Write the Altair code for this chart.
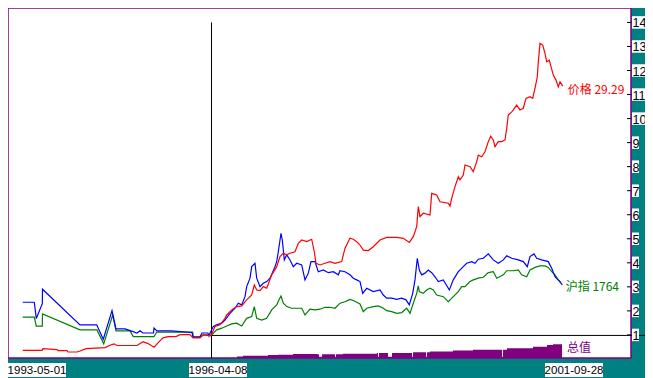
import altair as alt
import pandas as pd

# x = trading-day position along the chart (0 = 1993-05-01), y = relative value
price_x = [14.7, 34, 35, 49, 50, 59, 60, 69, 72, 78, 97, 102, 106, 109, 129, 135, 140, 146, 150, 155, 160, 168, 172, 182, 185, 192, 195, 203,
           204, 207, 212, 217, 218.7, 223.7, 228.7, 233.7, 238.7, 243.7, 246.3, 248.7, 252, 255.3, 258.7, 263.7, 268.7, 272, 275.3, 278.7, 282, 287,
           290.3, 293.7, 298.7, 303.7, 306.3, 308, 312, 317, 322, 327, 333.7, 337, 342, 345.3, 348.7, 352, 355.3, 360.3, 365.3, 372, 378.7, 388.7,
           395.3, 401.3, 405.3, 408.7, 410.3, 412, 415.3, 422, 423.7, 428.7, 432, 440.3, 442, 443.7, 447, 450.3, 452, 455.3, 457, 462, 465.3, 468.7,
           470.3, 473.7, 477, 480.3, 482.7, 485.3, 487, 490.3, 493.7, 497, 498.7, 500.3, 503.7, 505.3, 508.7, 512, 515.3, 518, 522, 524.7, 527,
           529.3, 530.3, 532, 534.7, 537, 538.7, 541.3, 543, 545.3, 548, 550.3, 552, 554.7]
price_y = [0.36, 0.36, 0.43, 0.39, 0.35, 0.35, 0.29, 0.29, 0.33, 0.43, 0.47, 0.57, 0.63, 0.56, 0.56, 0.72, 0.64, 0.49, 0.67, 0.88, 0.93, 0.93, 1.01, 1.01, 0.88, 0.88, 1.0, 0.96,
           1.07, 1.35, 1.42, 1.69, 1.83, 2.04, 2.18, 2.21, 2.46, 2.66, 3.08, 2.87, 2.84, 3.01, 2.94, 3.50, 3.84, 4.26, 4.40, 4.33, 4.40, 4.46,
           4.81, 4.95, 4.88, 4.98, 4.46, 3.98, 3.91, 3.98, 4.05, 3.98, 4.05, 4.61, 5.02, 4.98, 4.88, 4.74, 4.53, 4.51, 4.67, 4.95, 5.06, 5.06,
           5.02, 4.85, 5.09, 5.50, 6.34, 5.92, 6.06, 5.99, 6.89, 6.82, 6.54, 6.48, 6.36, 6.68, 7.17, 7.58, 7.45, 7.65, 8.07, 8.00, 7.79, 8.21,
           8.48, 8.41, 8.62, 9.04, 9.27, 9.11, 8.83, 9.04, 9.04, 9.11, 9.59, 10.15, 10.28, 10.36, 10.56, 10.36, 10.43, 10.84, 10.91, 10.84, 11.26,
           11.74, 12.36, 13.13, 13.06, 12.71, 12.36, 12.43, 12.16, 11.81, 11.60, 11.32, 11.53, 11.35]

fund_x = [14.7, 26.3, 28.3, 34.3, 34.5, 72, 88.7, 95.3, 104, 108, 117, 123, 129, 132, 135, 145.5, 146, 149, 163, 184, 185, 192, 194, 200, 201,
          202, 205.3, 208.7, 213.7, 217, 222, 227, 230.3, 233.7, 237, 238.7, 242, 243.7, 247, 248.7, 252, 255.3, 258.7, 262, 267, 268.7, 270.3,
          273, 274.3, 276.3, 278.7, 282, 285.3, 288.7, 293.7, 297, 300.3, 303, 307, 310.3, 315.3, 320.3, 325.3, 330.3, 332, 337, 342, 345.3, 348.7,
          352, 354.7, 358.7, 365.3, 372, 375.3, 378.7, 383.7, 388.7, 393.7, 398, 401.3, 404.7, 407, 409.3, 411.3, 413.7, 417, 420.3, 423.7, 427,
          430.3, 435.3, 440.3, 441.3, 445.3, 450.3, 455.3, 458.7, 463.7, 467, 470.3, 475.3, 480.3, 485.3, 490.3, 495.3, 498.7, 503.7, 510.3,
          515.3, 519.3, 522, 526, 528.7, 533.7, 540.3, 543.7, 547, 549.3, 552, 554.3]
fund_y = [2.36, 2.36, 1.68, 2.30, 2.90, 1.42, 1.42, 0.82, 2.01, 1.25, 1.25, 1.17, 1.08, 1.17, 1.08, 1.08, 1.29, 1.17, 1.17, 1.10, 0.92, 0.92, 1.08, 1.08, 0.96,
          1.07, 1.35, 1.42, 1.49, 1.62, 1.90, 2.11, 2.32, 2.25, 2.59, 3.01, 3.36, 3.84, 3.98, 3.36, 3.01, 3.15, 3.22, 3.36, 3.84, 4.05, 4.46,
          5.23, 4.95, 4.12, 4.33, 4.12, 3.84, 3.98, 3.91, 3.29, 3.57, 4.05, 4.05, 3.63, 3.70, 3.59, 3.63, 3.50, 3.67, 3.63, 3.50, 3.36, 3.29,
          3.22, 2.73, 2.94, 2.80, 2.87, 2.66, 2.53, 2.53, 2.48, 2.53, 2.46, 2.25, 2.73, 3.29, 4.19, 3.70, 3.50, 3.57, 3.70, 3.59, 3.42,
          3.22, 3.29, 2.94, 2.87, 3.29, 3.63, 3.84, 3.98, 4.05, 3.98, 4.15, 4.19, 4.37, 4.12, 3.98, 4.12, 4.29, 4.19, 4.12,
          4.05, 3.84, 4.26, 4.37, 4.19, 4.12, 4.05, 3.77, 3.42, 3.32, 3.22, 3.08]

sh_x = [14.7, 26.3, 28.3, 34.3, 34.5, 72, 89, 95.7, 104.7, 108, 122, 125.3, 146, 148.7, 184.7, 185.3, 192, 195.3, 202,
        203.7, 208.7, 213.7, 218.7, 223.7, 228.7, 233.7, 238.7, 243.7, 246.3, 248.7, 253.7, 258.7, 263.7, 268.7, 271, 273, 275.3, 278.7, 283.7,
        288.7, 293.7, 297, 302, 307, 312, 317, 322, 327, 332, 337, 342, 345.3, 352, 355.3, 358.7, 365.3, 370.3, 375.3, 378.7, 383.7, 388.7,
        393.7, 398.7, 402, 405.3, 408.7, 410.3, 411.3, 415.3, 418.7, 422, 425.3, 428.7, 435.3, 440.3, 445.3, 450.3, 453.7, 457, 462, 465.3,
        470.3, 475.3, 480.3, 485.3, 488.7, 495.3, 498.7, 505.3, 510.3, 513.7, 518.7, 522, 527, 532, 537, 540.3, 543.7, 547, 550.3, 552.7]
sh_y = [1.74, 1.74, 1.37, 1.37, 1.87, 1.21, 1.21, 0.63, 1.83, 1.17, 1.17, 0.93, 0.93, 1.12, 1.12, 0.90, 0.90, 1.0, 1.0,
        1.00, 1.21, 1.28, 1.37, 1.46, 1.49, 1.37, 1.69, 1.76, 2.18, 1.69, 1.62, 1.69, 2.04, 2.25, 2.46, 2.62, 2.32, 2.18, 2.11,
        2.11, 2.11, 1.83, 2.07, 2.04, 2.07, 2.15, 2.15, 2.11, 2.32, 2.38, 2.48, 2.43, 2.29, 1.97, 2.11, 2.18, 2.21, 2.11, 2.01, 1.97, 1.90,
        1.93, 2.11, 1.90, 2.32, 2.73, 3.04, 2.80, 2.73, 2.87, 2.94, 2.87, 2.66, 2.59, 2.38, 2.59, 2.80, 3.01, 3.01, 3.22, 3.29,
        3.36, 3.40, 3.59, 3.63, 3.36, 3.50, 3.67, 3.67, 3.70, 3.50, 3.42, 3.70, 3.81, 3.87, 3.87, 3.81, 3.63, 3.50, 3.29, 3.17]

total_x = [203, 229, 235, 260, 270, 285, 309, 311, 314, 327, 328, 335, 369, 370, 371, 380, 384, 404, 405, 418, 419, 422, 445, 465,
           494, 495, 499, 525, 539, 545, 554]
total_y = [0.04, 0.10, 0.13, 0.16, 0.18, 0.21, 0.20, 0.09, 0.20, 0.09, 0.20, 0.22, 0.25, 0.09, 0.25, 0.09, 0.25, 0.09, 0.28, 0.09, 0.28, 0.31, 0.35, 0.38,
           0.09, 0.38, 0.45, 0.51, 0.58, 0.61, 0.61]

y_ticks = list(range(1, 15))
date_labels = ["1993-05-01", "1996-04-08", "2001-09-28"]
date_pos = [29, 210, 566]
marker_x = 203
series_names = ["价格 29.29", "沪指 1764", "总值"]
series_colors = ["#ff0000", "#008000", "#800080"]

RED, BLUE, GREEN, PURPLE = "#ff0000", "#0000ff", "#008000", "#800080"
X_MIN, X_MAX = 0, 623
Y_MIN, Y_MAX = 0.04, 14.6
W, H = 623, 350

xs = alt.Scale(domain=[X_MIN, X_MAX], nice=False, zero=False)
ys = alt.Scale(domain=[Y_MIN, Y_MAX], nice=False, zero=False)
X = lambda f: alt.X(f, type="quantitative", scale=xs, axis=None)
Y = lambda f: alt.Y(f, type="quantitative", scale=ys, axis=None)

def line_layer(xv, yv, color):
    df = pd.DataFrame({"x": xv, "v": yv})
    return alt.Chart(df).mark_line(color=color, strokeWidth=1.2).encode(
        x=X("x"), y=Y("v"), order="x:Q")

total_df = pd.DataFrame({"x": total_x, "v": total_y})
area = alt.Chart(total_df).mark_area(color=PURPLE, interpolate="step-after", opacity=1).encode(
    x=X("x"), y=Y("v"), y2=alt.datum(Y_MIN))

vline = alt.Chart(pd.DataFrame({"x": [marker_x], "top": [14], "bot": [Y_MIN]})).mark_rule(
    color="black", strokeWidth=1, xOffset=0.5).encode(
    x=X("x"), y=Y("top"), y2="bot:Q")
hline = alt.Chart(pd.DataFrame({"x": [marker_x], "x2": [637], "v": [1]})).mark_rule(
    color="black", strokeWidth=1, yOffset=0.5).encode(
    x=X("x"), x2="x2:Q", y=Y("v"))

lab_df = pd.DataFrame({
    "x": [price_x[-1], sh_x[-1], total_x[-1]],
    "v": [price_y[-1], sh_y[-1], total_y[-1]],
    "t": series_names,
    "c": series_colors,
})
labels = alt.Chart(lab_df).mark_text(align="left", baseline="top", dx=5, dy=-1,
                                     font="Noto Sans CJK SC", fontSize=12).encode(
    x=X("x"), y=Y("v"), text="t:N", color=alt.Color("c:N", scale=None))

tick_df = pd.DataFrame({"v": y_ticks, "t": [str(t) for t in y_ticks]})
ticks = alt.Chart(tick_df).mark_rule(color="black").encode(
    x=alt.value(619), x2=alt.value(623), y=Y("v"))
box1 = alt.Chart(tick_df).transform_filter("datum.v < 10").transform_calculate(
    lo="datum.v - 0.26", hi="datum.v + 0.26").mark_rect(color="white").encode(
    x=alt.value(624), x2=alt.value(631), y=Y("lo"), y2="hi:Q")
box2 = alt.Chart(tick_df).transform_filter("datum.v >= 10").transform_calculate(
    lo="datum.v - 0.26", hi="datum.v + 0.26").mark_rect(color="white").encode(
    x=alt.value(624), x2=alt.value(637), y=Y("lo"), y2="hi:Q")
tick_text = alt.Chart(tick_df).mark_text(align="left", baseline="middle", font="Liberation Sans",
                                          fontSize=12.5, color="black", dy=1).encode(
    x=alt.value(624.5), y=Y("v"), text="t:N")

date_df = pd.DataFrame({"x": date_pos, "t": date_labels})
date_box = alt.Chart(date_df).transform_calculate(
    a="datum.x - 29", b="datum.x + 29").mark_rect(color="white").encode(
    x=X("a"), x2="b:Q", y=alt.value(355), y2=alt.value(369))
date_text = alt.Chart(date_df).mark_text(align="center", baseline="middle", font="Liberation Sans",
                                         fontSize=11.5, color="black", dy=1).encode(
    x=X("x"), y=alt.value(362), text="t:N")

chart = alt.layer(
    area, vline, hline,
    line_layer(sh_x, sh_y, GREEN),
    line_layer(fund_x, fund_y, BLUE),
    line_layer(price_x, price_y, RED),
    labels, ticks, box1, box2, tick_text, date_box, date_text,
).properties(
    width=W, height=H, background="#008080",
    padding={"left": 0, "top": 0, "right": 14, "bottom": 20},
    autosize=alt.AutoSizeParams(type="none"),
).configure_view(fill="white", stroke=PURPLE, strokeWidth=1.5)

chart.save("out.html", embed_options={"renderer": "svg", "actions": False})
